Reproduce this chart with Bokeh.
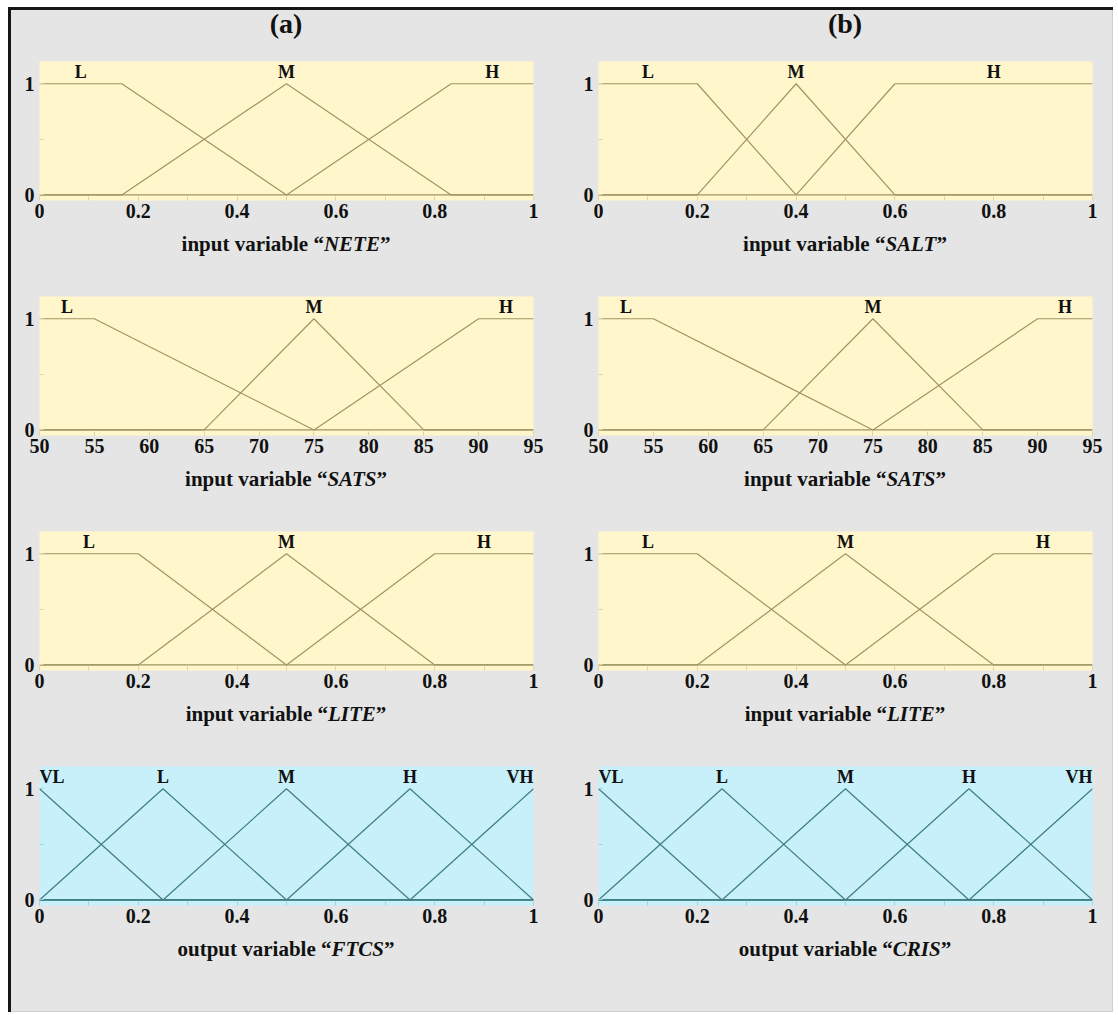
from bokeh.plotting import figure
from bokeh.models import (FixedTicker, LinearAxis, Range1d, ColumnDataSource,
                          NumeralTickFormatter, Spacer, Div)
from bokeh.layouts import row, column
from bokeh.embed import file_html
from bokeh.resources import INLINE
from bokeh.core.properties import value, field

# ---- membership functions: trapezoid corners [a, b, c, d] (triangles: b == c) ----
nete_range = [0, 1]
salt_range = [0, 1]
sats_range = [50, 95]
lite_range = [0, 1]
ftcs_range = [0, 1]
cris_range = [0, 1]

in_terms = ["L", "M", "H"]
out_terms = ["VL", "L", "M", "H", "VH"]

nete_params = [[0, 0, 0.1667, 0.5], [0.1667, 0.5, 0.5, 0.8333], [0.5, 0.8333, 1, 1]]
salt_params = [[0, 0, 0.2, 0.4], [0.2, 0.4, 0.4, 0.6], [0.4, 0.6, 1, 1]]
sats_params = [[50, 50, 55, 75], [65, 75, 75, 85], [75, 90, 95, 95]]
lite_params = [[0, 0, 0.2, 0.5], [0.2, 0.5, 0.5, 0.8], [0.5, 0.8, 1, 1]]
out_params = [[0, 0, 0, 0.25], [0, 0.25, 0.25, 0.5], [0.25, 0.5, 0.5, 0.75],
              [0.5, 0.75, 0.75, 1], [0.75, 1, 1, 1]]

unit_ticks = [0, 0.2, 0.4, 0.6, 0.8, 1]
unit_minor = [0.1, 0.3, 0.5, 0.7, 0.9]
sats_ticks = [50, 55, 60, 65, 70, 75, 80, 85, 90, 95]

# ---- styling ----
SERIF = "Liberation Serif"
PAGE_BG = "#e5e5e5"
IN_FILL, IN_LINE, IN_TICK = "#fff7cb", "#a09463", "#ddd3a4"
OUT_FILL, OUT_LINE, OUT_TICK = "#c8f0fa", "#3f7d84", "#9fd3de"
FRAME_W, FRAME_H = 494, 139
Y_LO, Y_HI = -0.05, 1.2
TEXT_CSS = ("font-family: 'Liberation Serif', serif; font-weight: bold; color: #111111; "
            "text-align: center; white-space: nowrap;")


def trap_curve(params, lo, hi):
    a, b, c, d = params
    xs = sorted({lo, hi, a, b, c, d})
    xs = [x for x in xs if lo <= x <= hi]

    def mu(x):
        if b <= x <= c:
            return 1.0
        if a < x < b:
            return (x - a) / (b - a)
        if c < x < d:
            return (d - x) / (d - c)
        return 0.0

    return xs, [mu(x) for x in xs]


def mf_figure(rng, params, terms, ticks, minor, is_output, left, right, top, bottom):
    fill = OUT_FILL if is_output else IN_FILL
    line_col = OUT_LINE if is_output else IN_LINE
    tick_col = OUT_TICK if is_output else IN_TICK
    lo, hi = rng

    p = figure(frame_width=FRAME_W, frame_height=FRAME_H,
               x_range=Range1d(lo, hi), y_range=Range1d(Y_LO, Y_HI),
               min_border_left=left, min_border_right=right,
               min_border_top=top, min_border_bottom=bottom,
               output_backend="svg", toolbar_location=None,
               x_axis_type=None, y_axis_type=None)
    p.background_fill_color = fill
    p.border_fill_color = PAGE_BG
    p.outline_line_color = None
    p.grid.visible = False

    common = dict(axis_line_color=None, major_tick_in=4, major_tick_out=0,
                  minor_tick_in=4, minor_tick_out=0,
                  major_tick_line_color=tick_col, minor_tick_line_color=tick_col,
                  major_label_text_font=SERIF, major_label_text_font_style="bold",
                  major_label_text_font_size="20px", major_label_text_color="#111111")
    p.add_layout(LinearAxis(ticker=FixedTicker(ticks=ticks, minor_ticks=minor),
                            formatter=NumeralTickFormatter(format="0.[0]"),
                            major_label_standoff=3, **common), "below")
    p.add_layout(LinearAxis(ticker=FixedTicker(ticks=[0, 1], minor_ticks=[0.5]),
                            formatter=NumeralTickFormatter(format="0"),
                            major_label_standoff=5, **common), "left")

    # membership curves
    for prm in params:
        xs, ys = trap_curve(prm, lo, hi)
        p.line(xs, ys, line_color=line_col, line_width=1.2)

    # term names above each plateau / peak
    lx, al = [], []
    for prm in params:
        cx = (prm[1] + prm[2]) / 2.0
        lx.append(cx)
        al.append("left" if cx <= lo else ("right" if cx >= hi else "center"))
    src = ColumnDataSource(dict(x=lx, y=[1.02] * len(lx), t=terms, align=al))
    p.text(x="x", y="y", text="t", source=src, text_align=field("align"),
           text_baseline="bottom", text_font=value(SERIF), text_font_style="bold",
           text_font_size="18px", text_color="#111111")
    return p


def caption(html, height, left, right, size, line_h, pad_top=0):
    return Div(text=f'<div style="{TEXT_CSS} font-size: {size}px; line-height: {line_h}px; '
                    f'padding-top: {pad_top}px; width: {FRAME_W}px;">{html}</div>',
               width=FRAME_W, height=height, margin=(0, right, 0, left))


def axis_title(kind, name, height, left, right):
    return caption(f"{kind} variable \u201c<i>{name}</i>\u201d", height, left, right, 21, 24, pad_top=4)


def cell(rng, params, terms, ticks, minor, is_output, kind, name, side, first=False,
         last=False, heading=None):
    left, right = side
    parts = []
    if heading:
        parts.append(caption(heading, 41, left, right, 28, 28))
    top = 10 if first else 35
    parts.append(mf_figure(rng, params, terms, ticks, minor, is_output, left, right, top, 28))
    parts.append(axis_title(kind, name, 78 if last else 33, left, right))
    return column(*parts, spacing=0, styles={"background-color": PAGE_BG})


A = (28, 33)
B = (32, 20)

panels = [
    [cell(nete_range, nete_params, in_terms, unit_ticks, unit_minor, False, "input", "NETE", A, first=True, heading="(a)"),
     cell(salt_range, salt_params, in_terms, unit_ticks, unit_minor, False, "input", "SALT", B, first=True, heading="(b)")],
    [cell(sats_range, sats_params, in_terms, sats_ticks, [], False, "input", "SATS", A),
     cell(sats_range, sats_params, in_terms, sats_ticks, [], False, "input", "SATS", B)],
    [cell(lite_range, lite_params, in_terms, unit_ticks, unit_minor, False, "input", "LITE", A),
     cell(lite_range, lite_params, in_terms, unit_ticks, unit_minor, False, "input", "LITE", B)],
    [cell(ftcs_range, out_params, out_terms, unit_ticks, unit_minor, True, "output", "FTCS", A, last=True),
     cell(cris_range, out_params, out_terms, unit_ticks, unit_minor, True, "output", "CRIS", B, last=True)],
]

bg = {"background-color": PAGE_BG}
grid = column(*[row(*r, spacing=0, styles=bg) for r in panels], spacing=0, styles=bg)
inner_w, inner_h = 555 + 546, 251 + 235 + 235 + 280

frame = row(
    Spacer(width=3, height=inner_h + 4, styles={"background-color": "#161616"}),
    column(
        Spacer(width=inner_w + 1, height=3, styles={"background-color": "#161616"}),
        row(grid, Spacer(width=1, height=inner_h, styles={"background-color": "#cfcfcf"}), spacing=0),
        Spacer(width=inner_w + 1, height=1, styles={"background-color": "#cfcfcf"}),
        spacing=0),
    spacing=0, margin=(7, 0, 0, 8))

open("out.html", "w").write(file_html(frame, INLINE, title="Membership functions"))
